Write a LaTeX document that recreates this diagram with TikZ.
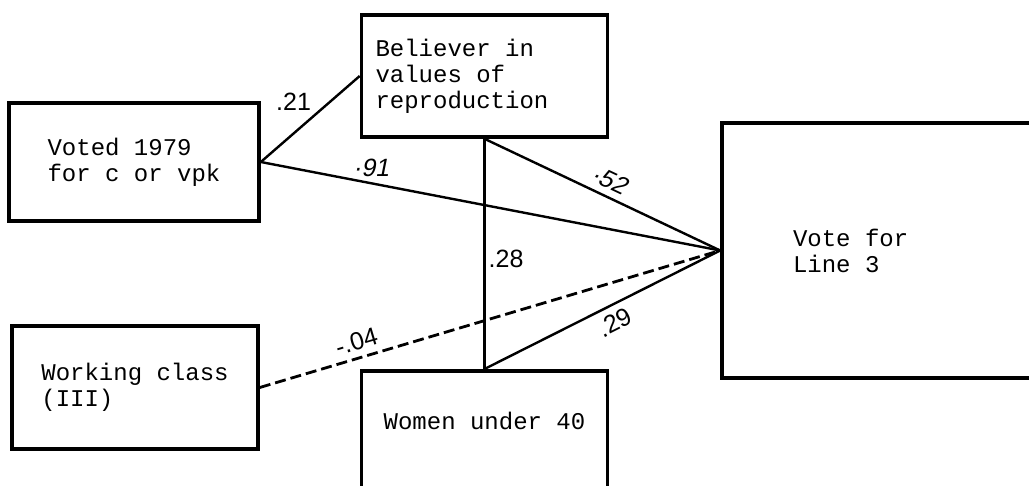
\documentclass[tikz,border=0pt]{standalone}
\usepackage{fontspec}
\setmainfont{Liberation Sans}
\newfontfamily\boxfont{Liberation Mono}
\newfontfamily\wtslant[FakeSlant=0.2]{Liberation Sans}

\begin{document}
\begin{tikzpicture}[x=1pt,y=-1pt,
        box/.style={rectangle,draw,line width=3.6pt,inner sep=0pt,align=flush left,
          font=\boxfont\fontsize{24}{26}\selectfont},
        link/.style={line width=2.4pt},
        dlink/.style={line width=2.8pt,dash pattern=on 11pt off 5pt},
        weight/.style={font=\fontsize{25}{25}\selectfont,inner sep=3pt},
        slweight/.style={weight,font=\wtslant\fontsize{25}{25}\selectfont}]
        \useasboundingbox (0,0) rectangle (1029,486);
        % variables
        \node[box,minimum width=250,minimum height=118] (voted) at (134,162) {Voted 1979\\for c or vpk};
        \node[box,minimum width=246,minimum height=122,text width=218] (believer) at (484.5,76) {Believer in\\values of\\reproduction};
        \node[box,minimum width=246,minimum height=123] (working) at (135,387.5) {Working class\\(III)};
        \node[box,anchor=north,minimum width=246,text height=59,text depth=82] (women) at (484.5,369) {Women under 40};
        \node[box,minimum width=350,minimum height=255,text width=208] (vote) at (897,250.5) {Vote for\\Line 3};
        % paths
        \draw[link] (voted.east) -- node[weight,pos=0.55,above left] (w21) {.21} (believer.west);
        \draw[link] (voted.east) -- node[slweight,pos=0.24,above=2pt] (w91) {·91} (vote.west);
        \draw[link] (believer.south) -- node[slweight,pos=0.5,sloped,above=3pt] (w52) {·52} (vote.west);
        \draw[link] (believer.south) -- node[weight,pos=0.52,right] (w28) {.28} (women.north);
        \draw[link] (women.north) -- node[weight,pos=0.52,sloped,below=4pt] (w29) {.29} (vote.west);
        \draw[dlink] (working.east) -- node[weight,pos=0.22,sloped,above=3pt] (w04) {-.04} (vote.west);
\end{tikzpicture}
\end{document}
